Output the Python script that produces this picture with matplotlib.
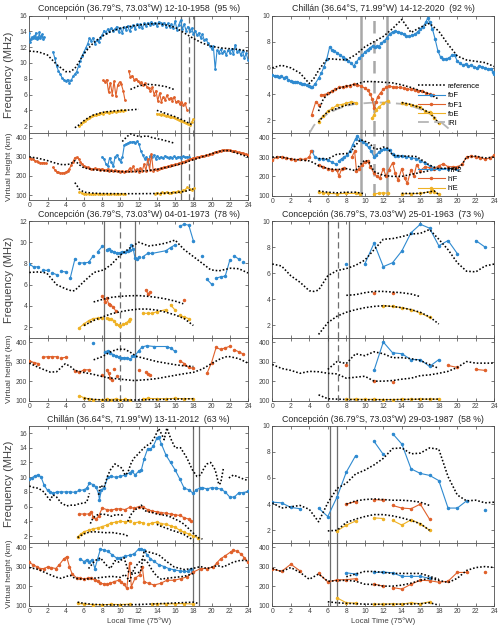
import numpy as np
import matplotlib
matplotlib.use('Agg')
import matplotlib.pyplot as plt
from matplotlib.lines import Line2D

nan = np.nan
plt.rcParams['font.family'] = ['Liberation Sans', 'DejaVu Sans']

c_blue = '#2f8ad0'
c_orange = '#e0612b'
c_yellow = '#efb225'
c_axis = '#4d4d4d'

hours = [0, 2, 4, 6, 8, 10, 12, 14, 16, 18, 20, 22, 24]
h_ticks = [100, 200, 300, 400]


def span(t0, t1, vals):
    return np.linspace(t0, t1, len(vals))


# ---------------- a: Concepción 12-10-1958 ----------------
a_title = 'Concepción (36.79°S, 73.03°W) 12-10-1958  (95 %)'
a_fof_1 = [13.8, 12.7, 13.0, 13.3, 13.1, 13.4, 13.2, 13.8, 13.0, 13.3, 13.1, 13.9, 13.2, 13.4, 13.6, 13.0, 13.3]
a_fof_2 = [11.4, 10.6, 9.6, 9.0, 8.6, 8.1, 7.9, 7.7, 7.9, 7.5, 7.8, 8.3, 8.6, 8.9, 9.6, 10.3, 10.9, 11.4, 11.9,
           12.4, 13.1, 12.8, 13.2, 12.4, 12.9, 12.6, 13.2, 13.5, 14.1, 13.8, 14.3, 14.0, 14.4, 14.1, 14.3, 14.6,
           13.9, 14.4, 13.8, 14.6, 14.2, 14.7, 14.0, 14.5, 14.8, 14.3, 14.9, 14.6, 14.9, 14.4, 15.0, 14.7, 15.1,
           14.8, 15.2, 14.9, 15.1, 14.7, 15.2, 15.0, 14.8, 15.1, 14.6, 15.0, 14.5, 14.9, 14.4, 15.3, 14.2, 14.8,
           15.4, 14.3, 14.9, 14.1, 14.6, 14.0, 14.4, 13.7, 14.1, 13.5, 13.8, 13.2, 13.6, 12.9, 13.0, 12.5, 12.2,
           11.8, 12.1, 9.2, 11.6, 11.3, 11.7, 11.2, 11.5, 11.0, 11.6, 11.3, 11.8, 11.1, 12.3, 11.4, 11.6, 11.0,
           11.5, 10.6, 11.2, 10.4]
a_fof_t = np.r_[span(0, 1.6, a_fof_1), nan, span(2.6, 24, a_fof_2)]
a_fof_v = np.r_[a_fof_1, nan, a_fof_2]

a_fof1_1 = [7.8, 7.6, 7.9, 6.3, 7.5, 6.0, 7.7, 5.8, 7.2, 7.6, 7.3, 6.5, 5.3]
a_fof1_2 = [9.0, 8.2, 8.4, 7.9, 8.0, 7.7, 7.5, 7.6, 7.2, 7.4, 7.0, 6.8, 6.4, 6.9, 6.0, 6.5, 5.2, 6.2, 5.1, 5.7,
            5.3, 5.9, 5.4, 5.6, 5.2, 5.7, 5.0, 5.2, 4.8, 5.1, 4.7, 4.9, 4.1]
a_fof1_t = np.r_[span(8.1, 10.5, a_fof1_1), nan, span(10.9, 17.3, a_fof1_2)]
a_fof1_v = np.r_[a_fof1_1, nan, a_fof1_2]

a_foe_1 = [2.0, 2.3, 2.5, 2.7, 2.9, 3.0, 3.1, 3.3, 3.4, 3.4, 3.5, 3.6, 3.7, 3.6, 3.75, 3.8, 3.7, 3.85, 3.8, 3.9,
           3.85, 3.95, 3.9, 4.0, 3.9, 4.0]
a_foe_2 = [3.6, 3.5, 3.4, 3.5, 3.4, 3.3, 3.35, 3.2, 3.2, 3.1, 3.0, 2.9, 2.8, 2.7, 2.6, 2.5, 2.4, 2.3, 2.2, 2.5, 2.9]
a_foe_t = np.r_[span(5.5, 10.5, a_foe_1), nan, span(14.0, 18.0, a_foe_2)]
a_foe_v = np.r_[a_foe_1, nan, a_foe_2]

a_ref_f = [
    ([0, 1, 2, 3, 4, 4.5, 5, 5.5, 6, 7, 8, 9, 10, 11, 12, 13, 14, 15, 16, 17, 18, 19, 20, 21, 22, 23, 24],
     [11.5, 11.4, 11.0, 9.8, 8.9, 8.9, 9.3, 10.2, 11.2, 12.5, 13.4, 14.0, 14.4, 14.6, 14.8, 14.9, 15.0, 14.8,
      14.5, 13.8, 13.1, 12.5, 12.1, 11.9, 11.8, 11.7, 11.5]),
    ([11.1, 12, 13, 14, 15, 16], [6.65, 7.1, 7.3, 7.2, 7.0, 6.6]),
    ([5, 5.5, 6, 6.5, 7, 8, 9, 10, 11, 12, nan, 14, 15, 16, 17, 18],
     [1.8, 2.2, 2.7, 3.1, 3.4, 3.75, 3.9, 4.0, 4.05, 4.15, nan, 4.0, 3.6, 3.2, 2.7, 2.1]),
]

a_hf2_v = [300, 290, 262, 250, 295, 272, 250, 300, 310, 290, 272, 300, 360, 368, 372, 378, 375, 380, 370, 382, 365,
           330, 310, 290, 300, 262, 305, 298, 310, 290, 305, 295, 300, 292, 305, 298, 295, 300, 296, 302, 295, 300,
           298, 296, 302, 297, 300, 298]
a_hf2_t = span(8.0, 17.5, a_hf2_v)

a_hf_1 = [295, 290, 287, 280, 276, 272, 270, 268, 270, 266]
a_hf_2 = [245, 232, 222, 218, 216, 215, 217, 220, 226, 238, 255, 275, 296, 298, 290, 275, 262, 254, 248, 245, 240,
          238, 236, 240, 234, 236, 232, 238, 233, 230, 236, 228, 232, 226, 230, 224, 228, 222, 227, 221, 226, 224,
          240, 225, 250, 228, 236, 222, 240, 226, 262, 228, 290, 232, 315, 228, 235, 232, 238, 240, 244, 246, 248,
          250, 254, 256, 258, 260, 263, 266, 268, 272, 275, 280, 284, 288, 290, 294, 296, 298, 300, 302, 304, 306,
          308, 311, 314, 317, 320, 324, 327, 330, 332, 334, 336, 335, 337, 334, 333, 330, 331, 326, 324, 320, 322,
          316, 314, 310]
a_hf_t = np.r_[span(0, 1.8, a_hf_1), nan, span(2.6, 24, a_hf_2)]
a_hf_v = np.r_[a_hf_1, nan, a_hf_2]

a_he_1 = [118, 110, 106, 104, 106, 103, 105, 104, 107, 103, 105, 104, 106, 103, 105, 104, 106, 105, 103, 104, 106]
a_he_2 = [108, 112, 106, 114, 109, 116, 111, 113, 118, 114, 120, 117, 124, 128, 140, 132, 128, 135]
a_he_t = np.r_[span(5.5, 10.5, a_he_1), nan, span(13.8, 18.1, a_he_2)]
a_he_v = np.r_[a_he_1, nan, a_he_2]

a_ref_h = [
    ([0, 1, 2, 3, 3.7, 4.5, 5, 5.5, 6, 7, 8, 9, 10, 11, 12, 13, 14, 15, 16, 17, 18, 19, 20, 21, 21.5, 22, 23, 24],
     [300, 292, 280, 265, 258, 262, 280, 258, 242, 233, 228, 225, 222, 222, 224, 228, 234, 244, 255, 268, 285, 300,
      316, 330, 333, 332, 315, 300]),
    ([10.2, 10.7, 11.1, 11.7, 12.3, 12.9, 13.5, 14.5, 15.3, 16.0], [380, 405, 420, 410, 405, 410, 400, 390, 380, 370]),
    ([5.0, 5.5, 6, 7, 8, 10, 12, 14, 16, 17, 18], [165, 130, 115, 110, 108, 107, 107, 108, 112, 118, 132]),
]
a_vlines = [16.6, 18.05]
a_vdash = [17.55]

# ---------------- b: Chillán 14-12-2020 ----------------
b_title = 'Chillán (36.64°S, 71.99°W) 14-12-2020  (92 %)'
b_fof_1 = [5.45, 5.4, 5.35, 5.3, 5.35, 5.25, 5.3, 5.1, 5.0, 4.95, 4.9, 4.95, 4.85, 4.8, 4.75, 4.7, 4.6, 4.55]
b_fof_t2 = [4.3, 4.6, 5.0, 5.3, 5.6, 5.9, 6.2, 6.4, 6.7, 7.0, 7.3, 7.6, 7.9, 8.2, 8.5, 8.8, 9.1, 9.4, 9.7, 10.0,
            10.3, 10.6, 10.9, 11.1, 11.3, 11.5, 11.8, 12.1, 12.4, 12.7, 13.0, 13.3, 13.6, 13.9, 14.2, 14.5, 14.8,
            15.1, 15.4, 15.7, 16.0, 16.3, 16.6, 16.8, 17.0, 17.3, 17.6, 17.9, 18.2, 18.5, 18.8, 19.1, 19.4, 19.7,
            20.0, 20.3, 20.6, 20.9, 21.2, 21.5, 21.8, 22.1, 22.4, 22.7, 23.0, 23.3, 23.6, 23.9, 24.0]
b_fof_2 = [4.5, 4.75, 5.2, 5.6, 6.1, 6.7, 7.6, 7.4, 7.3, 7.15, 7.0, 6.85, 6.7, 6.55, 6.35, 6.15, 6.45, 6.75, 6.95,
           7.2, 7.4, 7.55, 7.7, 7.6, 7.65, 7.6, 7.9, 8.05, 8.3, 8.6, 8.75, 8.8, 8.75, 8.7, 8.6, 8.4, 8.4, 8.5, 8.55,
           8.75, 8.95, 9.15, 9.5, 9.8, 9.5, 9.0, 8.2, 7.3, 6.8, 6.65, 6.7, 6.75, 6.95, 7.0, 6.5, 6.35, 6.2, 6.3,
           6.15, 6.2, 6.1, 6.0, 6.15, 6.05, 6.0, 5.9, 5.95, 5.7, 5.55]
b_fof_t = np.r_[span(0, 4.2, b_fof_1), nan, b_fof_t2]
b_fof_v = np.r_[b_fof_1, nan, b_fof_2]

b_fof1_t = [4.25, 4.7, 5.0, nan, 5.3, 5.6, 6.0, 6.4, 6.8, 7.2, 7.6, 8.0, 8.4, 8.8, 9.2, 9.6, 10.0, 10.3, 10.6, 10.8,
            11.0, 11.2, 11.4, 11.7, 12.0, 12.3, 12.6, 13.0, 13.4, 13.8, 14.2, 14.6, 15.0, 15.4, 15.8, 16.2, 16.6,
            17.0, 17.4]
b_fof1_v = [2.4, 3.4, 3.2, nan, 3.95, 3.95, 4.05, 4.2, 4.35, 4.5, 4.55, 4.6, 4.65, 4.75, 4.7, 4.6, 4.45, 4.3, 4.0,
            3.6, 2.9, 3.4, 3.8, 4.1, 4.35, 4.5, 4.6, 4.55, 4.5, 4.5, 4.45, 4.4, 4.35, 4.3, 4.25, 4.2, 4.1, 4.0, 3.9]
b_foe_t = [5.0, 5.5, 6, 6.5, 7, 7.5, 8, 8.5, 9, nan, 10.8, 11.0, 11.2, 11.5, 12, 12.5, nan,
           14, 14.5, 15, 15.5, 16, 16.5, 17, 17.5, 18]
b_foe_v = [1.9, 2.3, 2.7, 2.9, 3.15, 3.2, 3.3, 3.4, 3.35, nan, 2.2, 2.4, 2.8, 3.0, 3.3, 3.5, nan,
           3.35, 3.25, 3.2, 3.1, 3.0, 2.7, 2.6, 2.2, 1.8]
b_iri_t = [4.0, 4.5, 5, 6, 7, 8, 9, 10, 11, 12, 13, 14, 15, 16, 17, 18, 19, 19.5]
b_iri_v = [1.0, 1.6, 2.0, 2.5, 2.85, 3.1, 3.25, 3.3, 3.35, 3.35, 3.3, 3.25, 3.1, 2.85, 2.5, 2.0, 1.4, 1.0]
b_ref_f = [
    ([0, 0.5, 1, 2, 3, 4, 4.5, 5, 5.5, 6, 7, 8, 9, 10, 11, 12, 13, 14, 14.5, 15, 16, 17, 18, 19, 20, 21, 22, 23, 24],
     [6.0, 6.1, 6.2, 6.0, 5.6, 4.8, 5.2, 5.8, 6.3, 6.7, 6.65, 6.6, 7.0, 7.6, 8.0, 8.4, 9.0, 9.7, 9.2, 8.7, 9.1, 9.4,
      8.8, 7.8, 6.9, 6.6, 6.5, 6.4, 6.1]),
    ([5.0, 5.5, 6, 7, 8, 9, 10, 11, 12, 13, 14, 15, 16, 17, 18],
     [2.7, 3.6, 4.0, 4.4, 4.6, 4.75, 4.95, 4.95, 4.9, 4.85, 4.7, 4.5, 4.25, 4.0, 3.6]),
    ([5.0, 5.5, 6, 7, 8, 9, nan, 14, 15, 16, 17, 17.5, 18],
     [1.85, 2.3, 2.65, 2.9, 3.15, 3.3, nan, 3.35, 3.2, 2.95, 2.55, 2.2, 1.75]),
]
b_hf2_t = [4.3, 4.6, 5.0, 5.5, 6.0, 6.5, 6.9, nan, 7.2, 7.5, 7.8, 8.1, 8.4, 8.7, 9.0, 9.2, 9.5, 9.8, 10.1, 10.4,
           10.7, 11.0, 11.2, 11.5, 11.8, 12.1, 12.4, 12.7, 13.0, 13.3, 13.6, 14.0, 14.5, 15.0, 15.5, 16.0, 16.5,
           17.0, 17.5, 18.0, 19.0, 20.0]
b_hf2_v = [330, 300, 292, 290, 284, 272, 262, nan, 280, 292, 300, 310, 330, 365, 395, 410, 390, 378, 368, 350,
           330, 300, 310, 325, 335, 342, 340, 335, 315, 308, 305, 305, 300, 297, 292, 282, 268, 255, 245, 240,
           240, 240]
b_hf_t = [0, 0.5, 1, 1.5, 2, 2.5, 3, 3.5, 4, 4.2, nan, 5, 5.5, 6, 6.5, 7, 7.2, 7.5, 7.8, nan, 8.6, 8.9, 9.1, 9.4,
          9.7, 10, 10.3, 10.6, 11, 11.3, 11.6, 12, 12.3, 12.6, 13, 13.3, 13.6, 14, 14.3, 14.6, 15, 15.3, 15.6, 16,
          16.5, 17, 17.5, 18, 18.5, 19, 19.5, 20, 20.5, 21, 21.5, 22, 22.5, 23, 23.5, 24]
b_hf_v = [285, 300, 300, 295, 290, 285, 290, 288, 300, 330, nan, 260, 250, 240, 235, 232, 200, 240, 245, nan, 300,
          330, 230, 240, 260, 275, 280, 250, 215, 200, 190, 240, 200, 235, 270, 215, 180, 240, 190, 165, 235, 200,
          260, 230, 250, 245, 240, 255, 265, 250, 250, 250, 262, 300, 305, 300, 295, 290, 295, 310]
b_he_t = [5, 5.5, 6, 7, 8, 9, 9.5, nan, 11, 11.5, 12, 12.5, nan, 14, 15, 16, 17, 17.3, 17.5, 18]
b_he_v = [120, 115, 112, 110, 112, 112, 108, nan, 110, 112, 115, 112, nan, 110, 110, 112, 120, 130, 118, 110]
b_ref_h = [
    ([5, 5.5, 6, 7, 8, 8.5, 9, 9.5, 10, 10.5, 11, 11.5, 12, 12.5, 13, 14, 15, 15.6, 16, 17, 17.8, 19.2, 19.9],
     [292, 292, 290, 315, 318, 328, 360, 390, 382, 372, 345, 340, 352, 345, 310, 305, 305, 302, 290, 258, 242, 241,
      233]),
    ([0, 1, 2, 3, 4, 4.5, 5, 6, 7, 8, 9, 9.5, 10, 10.5, 11, 12, 13, 14, 15, 16, 17, 18, 19, 20, 20.5, 21, 22, 23, 24],
     [300, 300, 290, 285, 280, 270, 255, 240, 235, 240, 230, 260, 285, 270, 225, 205, 200, 200, 210, 220, 230, 240,
      240, 240, 260, 300, 305, 295, 300]),
    ([5, 6, 7, 8, 9, 10, nan, 14, 15, 16, 17, 17.5, 18], [125, 118, 115, 118, 118, 110, nan, 112, 112, 112, 120, 125, 105]),
]
b_vlines = [9.6, 12.45]
b_vdash = [10.95]

# ---------------- c: Concepción 04-01-1973 ----------------
c_title = 'Concepción (36.79°S, 73.03°W) 04-01-1973  (78 %)'
c_fof_t = [0, 0.5, 1.0, nan, 1.5, 2.0, nan, 2.5, 3.0, nan, 3.5, 4.0, nan, 4.5, 5.0, nan, 5.5, 6.0, 6.5, 7.0, nan,
           7.5, 8.0, nan, 8.5, 8.7, 9.0, 9.3, 9.6, 9.9, 10.2, 10.5, 10.8, 11.0, 11.2, 11.4, 11.6, 11.8, 12.0, nan,
           12.5, 13.0, 13.5, 15.0, 15.5, 16.0, nan, 16.5, 17.0, 17.5, 18.0, nan, 19.0, nan, 19.5, 20.0, nan,
           20.5, 21.0, 21.5, 22.0, nan, 22.5, 23.0, nan, 23.5]
c_fof_v = [7.95, 7.65, 7.7, nan, 7.35, 7.35, nan, 7.1, 6.95, nan, 7.25, 7.2, nan, 6.65, 8.4, nan, 8.05, 8.05, 8.1,
           8.7, nan, 9.1, 9.6, nan, 9.3, 9.4, 9.2, 9.1, 9.0, 9.0, 9.1, 9.1, 9.2, 9.3, 9.7, 9.4, 8.5, 8.4, 8.6, nan,
           8.65, 8.95, 8.95, 9.2, 9.5, 9.75, nan, 11.5, 11.7, 11.6, 10.15, nan, 8.7, nan, 6.5, 6.05, nan,
           6.6, 6.75, 6.8, 8.3, nan, 8.7, 8.4, nan, 8.1]
c_fof1_t = [8.0, 8.3, 8.5, 8.7, 8.9, 9.2, 9.5, nan, 12.8, 13.0, 13.3, nan, 17.0]
c_fof1_v = [4.9, 4.4, 4.75, 4.2, 4.1, 3.9, 3.5, nan, 5.5, 5.15, 5.3, nan, 4.6]
c_foe_t = [5.5, 6, 6.5, 7, 7.5, 8, nan, 8.5, 8.8, 9, 9.3, 9.5, 9.8, 10, 10.3, 10.6, 10.9, 11, nan,
           12.5, 13, 13.5, 14, 15, nan, 15.5, 16, nan, 16.5, 17, 17.5]
c_foe_v = [1.95, 2.3, 2.6, 2.8, 2.85, 2.9, nan, 2.85, 2.8, 2.75, 2.6, 2.3, 2.15, 2.1, 2.25, 2.35, 2.6, 2.8, nan,
           3.3, 3.3, 3.3, 3.45, 3.65, nan, 4.1, 3.6, nan, 3.1, 2.95, 2.8]
c_ref_f = [
    ([0, 1, 1.9, 3, 4, 4.7, 5, 6, 7.1, 8.2, 9, 10, 11.1, 12, 13.1, 14, 14.9, 16, 17, 18, 19, 19.9, 20.8, 22.1, 23, 24],
     [7.15, 7.2, 7.1, 6.0, 5.6, 5.4, 5.45, 6.3, 7.15, 7.4, 7.9, 8.8, 9.5, 10.0, 9.65, 9.75, 9.9, 10.2, 9.3, 8.65,
      8.0, 7.4, 7.3, 7.55, 7.5, 7.1]),
    ([7.06, 8, 9, 10, 11, 12, 13, 14, 15, 16, 16.9], [4.37, 4.6, 4.8, 4.9, 4.95, 4.97, 4.9, 4.8, 4.65, 4.45, 4.2]),
    ([6, 7, 8, 9, 10, 11, 12, 13, 14, 15, 16, 17, 18],
     [2.15, 2.6, 2.95, 3.25, 3.45, 3.6, 3.7, 3.7, 3.6, 3.4, 3.15, 2.8, 2.15]),
]
c_hf2_t = [7.0, nan, 8.3, 8.6, 8.9, 9.2, 9.5, 9.8, 10.1, 10.4, 10.7, 11.0, nan, 11.3, 11.6, 12.0, 12.4, 12.9, 13.7,
           15.1, 15.5, 16.0]
c_hf2_v = [395, nan, 350, 355, 345, 335, 330, 325, 320, 320, 318, 315, nan, 330, 330, 355, 375, 381, 377, 377, 369,
           352]
c_hf_t = [0, 0.5, 1, nan, 1.5, 2, 2.5, 3, nan, 3.5, 4, nan, 5, 5.5, 6, 6.5, nan, 8.0, nan, 8.5, 8.7, 8.9, 9.1, nan,
          9.3, nan, 9.6, nan, 12.0, nan, 12.8, 13.0, 13.3, nan, 16.5, 17, 17.5, 18, nan, 19.5, 20, 20.5, 21, 21.5,
          22, nan, 22.5, 23, 23.5]
c_hf_v = [305, 295, 290, nan, 322, 325, 325, 325, nan, 318, 322, nan, 250, 245, 258, 258, nan, 230, nan, 255, 240,
          215, 205, nan, 260, nan, 225, nan, 255, nan, 245, 235, 230, nan, 305, 290, 270, 265, nan, 240, 295, 372,
          362, 370, 378, nan, 360, 350, 338]
c_he_t = [5.5, 6, 6.5, 7, 8, 8.5, 9, 9.5, 10, 10.5, 11, nan, 12.5, 13, 14, 15, 16, 17, 18]
c_he_v = [125, 115, 110, 106, 105, 108, 106, 109, 105, 107, 105, nan, 110, 112, 110, 110, 112, 110, 110]
c_ref_h = [
    ([7.06, 8, 9, 9.8, 10.5, 11, 11.8, 13, 14, 15, 16, 17, 18],
     [309, 325, 352, 364, 362, 350, 326, 312, 300, 292, 284, 278, 275]),
    ([0, 1, 2.3, 3, 3.95, 4.5, 5, 6, 7, 8.5, 10, 11.5, 13, 14, 15.9, 17, 18, 19, 20, 21, 21.7, 22, 23, 24],
     [292, 270, 246, 248, 289, 275, 255, 244, 235, 218, 210, 203, 208, 213, 229, 238, 245, 262, 290, 315, 326, 325,
      315, 292]),
    ([6, 7, 8, 10, 12, 14, 16, 18], [112, 107, 104, 103, 104, 106, 108, 110]),
]
c_vlines = [8.25, 11.65]
c_vdash = [9.9]

# ---------------- d: Concepción 25-01-1963 ----------------
d_title = 'Concepción (36.79°S, 73.03°W) 25-01-1963  (73 %)'
d_fof_t = [8, nan, 10, 11, 12, 13, 14, 15, 16, 17, 18, 19, 20, nan, 22, 23]
d_fof_v = [6.7, nan, 6.7, 8.3, 6.5, 6.8, 7.7, 9.1, 9.75, 9.45, 8.1, 8.5, 7.5, nan, 8.5, 8.0]
d_fof1_t = [11, nan, 13]
d_fof1_v = [4.5, nan, 4.5]
d_foe_t = [12, 13, 14, 15, 16, 17]
d_foe_v = [3.5, 3.45, 3.35, 3.2, 2.95, 2.6]
d_ref_f = [
    ([0, 1, 2, 3, 4, 4.5, 5, 6, 7, 8, 9, 10, 11, 12, 13, 14, 15, 16, 17, 18, 19, 20, 21, 22, 23, 24],
     [6.7, 6.55, 5.8, 5.3, 4.65, 4.6, 4.7, 5.8, 6.2, 6.35, 6.6, 7.0, 7.8, 8.6, 8.65, 8.8, 9.0, 9.05, 9.35, 8.6, 7.8,
      6.8, 6.15, 6.1, 6.55, 6.7]),
    ([8, 9, 10, 11, 12, 13, 14, 15, 16], [4.3, 4.35, 4.5, 4.6, 4.6, 4.55, 4.5, 4.4, 4.2]),
    ([5, 6, 7, 8, 9, 10, 11, 12, 13, 14, 15, 16, 17, 18],
     [1.3, 2.2, 2.7, 3.0, 3.2, 3.35, 3.45, 3.5, 3.45, 3.35, 3.2, 3.0, 2.65, 2.1]),
]
d_hf2_t = [11, 12, 13, 14, 15, 16, 17, 18]
d_hf2_v = [255, 400, 345, 340, 310, 310, 275, 310]
d_hf_t = [8, nan, 11, nan, 13, nan, 19, 20, nan, 22, 23]
d_hf_v = [280, nan, 200, nan, 197, nan, 280, 270, nan, 260, 255]
d_he_t = [8, 9, 10, 11, 12, 13, 14, 15, 16, 17, 18]
d_he_v = [107, 108, 107, 107, 106, 106, 107, 107, 108, 108, 108]
d_ref_h = [
    ([6, 7, 8, 9, 10, 11, 12, 13, 14, 15, 16, 17, 18],
     [260, 300, 290, 340, 330, 350, 340, 320, 320, 315, 305, 285, 265]),
    ([0, 1, 2, 3, 4, 5, 6, 7, 8, 9, 10, 11, 12, 13, 14, 15, 16, 17, 18, 19, 20, 21, 22, 23, 24],
     [285, 265, 255, 240, 250, 248, 240, 237, 215, 220, 225, 200, 200, 203, 210, 215, 228, 232, 240, 250, 270, 300,
      292, 292, 292]),
    ([5, 6, 7, 8, 10, 12, 14, 16, 18], [130, 110, 108, 106, 105, 105, 106, 108, 108]),
]
d_vlines = [6.05, 8.25]
d_vdash = [7.05]

# ---------------- e: Chillán 13-11-2012 ----------------
e_title = 'Chillán (36.64°S, 71.99°W) 13-11-2012  (63 %)'
e_fof_t = [0, 0.3, 0.6, 1.0, 1.3, 1.6, 2.0, 2.3, 2.6, 3.0, 3.5, 4.0, 4.5, 5.0, 5.5, 6.0, 6.3, 6.6, 7.0, 7.3, 7.6,
           7.7, 7.9, 8.2, 8.6, 9.0, 9.5, 10.0, 10.5, 11.0, 11.3, 11.6, 12.0, 12.3, 12.6, 13.0, 13.3, 13.6, 14.0,
           14.2, 14.5, 15.0, 15.5, 16.0, 16.5, 17.0, 17.5, 18.0, 18.3, 18.7, 19.0, 19.5, 20.0, 20.5, 21.0, 21.5,
           22.0, 22.5, 23.0, 23.5, 24.0]
e_fof_v = [9.7, 9.9, 10.2, 10.3, 10.0, 9.0, 8.2, 8.0, 7.8, 8.0, 8.0, 8.0, 8.0, 7.95, 8.2, 8.3, 8.5, 9.2, 9.0, 8.7,
           7.8, 6.9, 8.3, 8.5, 10.0, 10.1, 10.0, 10.1, 10.3, 10.6, 10.8, 10.3, 10.8, 11.0, 12.5, 13.9, 13.8, 14.2,
           15.3, 15.5, 14.5, 13.0, 12.0, 11.0, 9.8, 8.5, 8.3, 7.8, 8.3, 8.5, 8.6, 8.4, 8.6, 8.5, 8.4, 8.0, 7.3, 7.3,
           7.9, 7.9, 8.1]
e_fof1_t = [5.5, 6.0, 6.5, 6.8, 7.0, 7.3, 7.6, 8.0, 8.5, 9.0, 9.5, 10.0, 10.5, 11.0, 11.5, 12.0, 12.5, 13.0, 13.5,
            14.0, 14.5, 15.0, 15.5, 16.0, 16.5, 17.0, 17.5, 17.7]
e_fof1_v = [5.0, 5.0, 5.0, 5.3, 4.6, 4.3, 4.7, 5.8, 5.6, 5.5, 5.7, 5.7, 5.6, 5.9, 5.8, 6.0, 5.9, 5.6, 5.4, 5.3, 5.2,
            5.1, 5.0, 4.9, 4.8, 4.5, 4.3, 4.0]
e_foe_t = [5.3, 5.7, 6.0, 6.5, 7.0, 7.5, 8.0, 8.5, 9.0, 9.5, 10.0, 10.5, 11.0, nan, 11.5, 12.0, 12.5, nan,
           13.0, 13.5, 14.0, 14.5, 15.0, 15.5, 16.0, 16.5, 17.0, 17.5, 18.0, 18.5]
e_foe_v = [1.9, 2.3, 2.6, 2.8, 3.0, 3.1, 3.3, 3.5, 3.8, 3.9, 4.0, 3.95, 4.0, nan, 3.8, 3.9, 3.8, nan,
           3.6, 3.8, 3.9, 3.7, 3.6, 3.4, 3.2, 2.8, 2.5, 2.3, 2.0, 1.8]
e_ref_f = [
    ([0, 0.5, 1, 1.6, 2, 2.3, 2.6, 3.0, 3.5, 4.1, 4.5, 5, 5.5, 6, 6.3, 6.6],
     [8.8, 8.6, 8.5, 8.0, 7.3, 6.9, 7.6, 7.3, 6.5, 6.1, 6.2, 6.2, 6.4, 6.5, 6.6, 7.8]),
    ([7.6, 7.8, 8.2, 8.6, 8.9, 9.4, 9.8, 10.2, 10.5, 10.8, 11.2, 11.5, 11.9, 12.2, 12.6, 12.9, 13.3, 13.7, 14.2, 14.5,
      14.8, 15.1, 15.5, 16.0, 16.6, 17.0, 17.3, 17.9, 18.4, 18.8, 19.2, 19.5, 19.9, 20.4, 20.8, 21.0, 21.3],
     [7.6, 8.9, 8.6, 10.2, 11.0, 11.8, 11.5, 11.2, 10.3, 10.6, 12.0, 12.6, 13.1, 13.5, 14.0, 14.3, 14.6, 15.3, 16.6,
      15.9, 15.1, 16.7, 15.3, 14.0, 14.0, 13.2, 12.6, 11.0, 10.1, 10.3, 11.3, 11.8, 12.0, 11.0, 9.0, 9.2, 11.2]),
    ([21.9, 22.4, 22.8, 23.2, 23.6, 23.9], [9.9, 10.3, 10.1, 9.9, 9.7, 9.6]),
    ([6.7, 7.0, 7.5, 8.0, 8.5, 9.0, 9.5, 10.0, 10.4], [3.7, 4.5, 4.9, 5.0, 4.9, 4.7, 4.9, 4.9, 4.8]),
    ([10.8, 11.2, 11.6, 12.0, 12.3, 12.6, 13.0, 13.5, 14.0, 14.5, 15.0, 15.5, 16.0, 16.5, 17.0, 17.5, 18.0, 18.5, 19.0],
     [4.0, 5.0, 5.6, 5.8, 6.2, 5.5, 5.3, 5.2, 5.0, 4.9, 4.8, 4.6, 4.3, 4.0, 3.6, 3.0, 2.4, 1.8, 1.6]),
    ([5.3, 5.7, 6.0, 6.5, 7.0, 7.5, 8.0, 8.5, 9.0, 9.5, 10.0, 10.5, 10.8],
     [1.8, 2.1, 2.3, 2.5, 2.6, 2.55, 2.5, 2.45, 2.5, 2.4, 2.3, 2.2, 2.0]),
    ([14.0, 14.5, 15.0, 15.5, 16.0, 16.5, 17.0, 17.5, 18.0], [3.6, 3.3, 3.1, 2.85, 2.65, 2.45, 2.2, 1.8, 1.5]),
]
e_hf2_t = [5.6, 6.0, 6.3, 6.6, 6.9, 7.2, 7.5, 7.8, 8.2, 8.6, 9.1, 9.6, 10.0, 10.5, 11.0, 11.5, 12.0, 12.3, 12.6,
           12.9, 13.3, 13.7, 14.2, 14.8, 15.3, 15.9, 16.5, 17.0, 17.4, 17.7, 17.9]
e_hf2_v = [340, 325, 335, 325, 335, 290, 340, 388, 385, 378, 360, 343, 345, 352, 358, 365, 390, 388, 386, 360, 340,
           326, 310, 300, 290, 283, 278, 275, 275, 290, 272]
e_hf_t = [0, 0.4, 0.8, 1.2, 1.6, 2.0, 2.4, 2.9, 3.3, 3.8, 4.1, 4.4, 4.7, 5.2, 5.6, 6.0, 6.4, 6.8, 7.2, 7.5, 7.8,
          8.2, 8.5, 8.9, 9.3, 9.8, 10.1, 10.4, 10.7, 11.0, 11.2, 11.6, 12.1, 12.4, 12.6, 13.1, 13.7, 14.4, 15.1,
          15.9, 16.6, 17.3, 18.0, 18.8, 19.5, 20.2, 20.6, 21.0, 21.5, 22.1, 22.4, 22.8, 23.2, 23.6, 24.0]
e_hf_v = [321, 310, 300, 290, 290, 298, 295, 290, 310, 340, 350, 300, 263, 242, 240, 238, 240, 242, 230, 225, 214,
          212, 209, 215, 223, 230, 220, 209, 188, 320, 197, 240, 257, 300, 223, 214, 206, 214, 230, 230, 238, 247,
          272, 290, 290, 298, 320, 340, 355, 375, 383, 378, 366, 345, 323]
e_he_t = [5.3, 6, 7, 8, 9, 10, 11, nan, 13.5, 14, 15, 16, 17, 18]
e_he_v = [112, 108, 106, 105, 107, 106, 108, nan, 108, 110, 109, 110, 111, 108]
e_ref_h = [
    ([0, 1, 1.6, 2.3, 2.9, 3.5, 4.1, 4.5, 5, 6, 7, 8, 9, 10, 10.5, 11, 11.5, 12, 12.5, 13, 13.5, 14, 14.5, 15, 16,
      17, 18],
     [295, 285, 272, 258, 246, 240, 250, 255, 240, 235, 240, 245, 250, 245, 260, 225, 290, 320, 340, 320, 280, 250,
      235, 240, 245, 250, 265]),
    ([6.5, 7.2, 7.8, 8.4, 8.9, 9.4, 9.8, 10.4, 10.9, 11.5, 12.2, 12.6, 13.3, 14.2, 15.1, 15.9, 17, 17.9, 18.8, 19.5,
      20.6, 21.3, 22.4, 23.2, 24],
     [290, 330, 345, 310, 290, 330, 323, 345, 272, 265, 272, 380, 372, 360, 325, 298, 285, 290, 300, 290, 305, 298,
      323, 332, 330]),
    ([5.3, 6, 7, 8, 9, 10, 11, 12, 13, 14, 15, 16, 17, 18, 18.5],
     [118, 112, 107, 105, 104, 104, 105, 106, 108, 110, 112, 114, 116, 118, 112]),
]
e_vlines = [17.95, 18.65]
e_vdash = []

# ---------------- f: Concepción 29-03-1987 ----------------
f_title = 'Concepción (36.79°S, 73.03°W) 29-03-1987  (58 %)'
f_fof_t = [0, 1, 2, 3, nan, 5, 6, 7, 8, 9, nan, 11, 12, nan, 13, 14, 15, 16, 17, 18, 19, 20, 21, nan, 23]
f_fof_v = [4.15, 4.1, 3.75, 3.65, nan, 3.7, 3.05, 4.55, 6.45, 7.7, nan, 8.8, 7.8, nan, 9.4, 8.6, 6.7, 6.35, 6.2,
           5.8, 3.7, 3.7, 4.25, nan, 3.55]
f_fof1_t = [8, 9, nan, 11, 12, nan, 13, 14, 15, 16, 17]
f_fof1_v = [4.0, 4.2, nan, 4.35, 4.3, nan, 3.9, 3.7, 3.65, 4.0, 2.85]
f_foe_t = [7, 8, 9, nan, 11, 12, nan, 13, 14, 15, 16, 17]
f_foe_v = [1.95, 2.4, 2.7, nan, 2.95, 2.9, nan, 2.75, 2.4, 2.8, 2.5, 2.0]
f_ref_f = [
    ([0, 1, 2, 3, 4, 5, 6, 7, 8, 9, 10, 11, 12, 13, 14, 15, 16, 17, 18, 19, 20, 21, 22, 23, 24],
     [4.1, 3.7, 3.8, 3.9, 3.6, 2.65, 4.1, 5.2, 5.6, 6.3, 6.6, 7.0, 7.5, 8.25, 8.3, 7.85, 7.9, 8.3, 8.2, 6.1, 4.7,
      4.25, 4.3, 4.1, 4.15]),
    ([8, 9, 10, 11, 12, 13, 14, 15, 16, 17], [4.0, 4.25, 4.35, 4.4, 4.35, 4.3, 4.3, 4.25, 4.15, 3.9]),
    ([6, 7, 8, 9, 10, 11, 12, 13, 14, 15, 16, 17], [1.95, 2.0, 2.6, 2.85, 3.05, 3.2, 3.2, 3.1, 2.95, 2.75, 2.5, 2.0]),
]
f_hf2_t = [8, 9, nan, 11, 12, 13, 14, 15, 16, 17]
f_hf2_v = [268, 262, nan, 270, 272, 268, 250, 250, 250, 240]
f_hf_t = [0, 1, 2, 3, nan, 5, 6, 7, 8, 9, nan, 11, 12, nan, 13, 14, 15, 16, 17, 18, 19, 20, 21, nan, 23]
f_hf_v = [288, 275, 312, 278, nan, 265, 222, 232, 233, 238, nan, 210, 200, nan, 193, 185, 210, 230, 228, 220, 225,
          270, 270, nan, 272]
f_he_t = [7, 8, 9, nan, 11, 12, 13, 14, 15, 16, 17]
f_he_v = [140, 115, 113, nan, 108, 108, 110, 108, 115, 110, 120]
f_ref_h = [
    ([0, 1, 2, 3, 4, 5, 6, 7, 8, 9, 10, 11, 12, 13, 14, 15, 16, 17, 18, 19, 20, 21, 22, 23, 24],
     [290, 275, 295, 270, 235, 262, 225, 228, 230, 225, 210, 208, 200, 200, 205, 215, 230, 240, 230, 218, 240, 280,
      295, 300, 295]),
    ([8, 9, 10, 11, 12, 13, 14, 15, 16, 17, 18], [248, 262, 275, 275, 270, 265, 265, 265, 265, 250, 235]),
    ([6, 7, 8, 10, 12, 14, 16, 17, 18], [120, 115, 112, 108, 107, 108, 110, 115, 103]),
]
f_vlines = [6.2, 7.0]
f_vdash = []

# ---------------- layout (pixels) ----------------
W, H = 500, 629
cols = [(29.3, 248.0), (272.3, 494.3)]
rows = [(15.5, 133.3, 200.0), (221.0, 337.7, 400.7), (425.7, 542.7, 605.7)]

panels = [
    dict(title=a_title, col=0, row=0, fylim=(1.1, 16), fticks=range(2, 17, 2), hylim=(74, 423),
         fof=(a_fof_t, a_fof_v), fof1=(a_fof1_t, a_fof1_v), foe=(a_foe_t, a_foe_v), ref_f=a_ref_f,
         hf2=(a_hf2_t, a_hf2_v), hf=(a_hf_t, a_hf_v), he=(a_he_t, a_he_v), ref_h=a_ref_h,
         vl=a_vlines, vd=a_vdash, dense=True),
    dict(title=b_title, col=1, row=0, fylim=(1.0, 10), fticks=range(2, 11, 2), hylim=(100, 423), bottom=195.7,
         fof=(b_fof_t, b_fof_v), fof1=(b_fof1_t, b_fof1_v), foe=(b_foe_t, b_foe_v), ref_f=b_ref_f,
         hf2=(b_hf2_t, b_hf2_v), hf=(b_hf_t, b_hf_v), he=(b_he_t, b_he_v), ref_h=b_ref_h,
         vl=b_vlines, vd=b_vdash, iri=(b_iri_t, b_iri_v), legend=True),
    dict(title=c_title, col=0, row=1, fylim=(1.0, 12), fticks=range(2, 13, 2), hylim=(100, 422),
         fof=(c_fof_t, c_fof_v), fof1=(c_fof1_t, c_fof1_v), foe=(c_foe_t, c_foe_v), ref_f=c_ref_f,
         hf2=(c_hf2_t, c_hf2_v), hf=(c_hf_t, c_hf_v), he=(c_he_t, c_he_v), ref_h=c_ref_h,
         vl=c_vlines, vd=c_vdash),
    dict(title=d_title, col=1, row=1, fylim=(1.05, 10), fticks=range(2, 11, 2), hylim=(100, 422),
         fof=(d_fof_t, d_fof_v), fof1=(d_fof1_t, d_fof1_v), foe=(d_foe_t, d_foe_v), ref_f=d_ref_f,
         hf2=(d_hf2_t, d_hf2_v), hf=(d_hf_t, d_hf_v), he=(d_he_t, d_he_v), ref_h=d_ref_h,
         vl=d_vlines, vd=d_vdash),
    dict(title=e_title, col=0, row=2, fylim=(1.1, 17), fticks=range(2, 17, 2), hylim=(100, 422),
         fof=(e_fof_t, e_fof_v), fof1=(e_fof1_t, e_fof1_v), foe=(e_foe_t, e_foe_v), ref_f=e_ref_f,
         hf2=(e_hf2_t, e_hf2_v), hf=(e_hf_t, e_hf_v), he=(e_he_t, e_he_v), ref_h=e_ref_h,
         vl=e_vlines, vd=e_vdash),
    dict(title=f_title, col=1, row=2, fylim=(1.05, 10), fticks=range(2, 11, 2), hylim=(100, 422),
         fof=(f_fof_t, f_fof_v), fof1=(f_fof1_t, f_fof1_v), foe=(f_foe_t, f_foe_v), ref_f=f_ref_f,
         hf2=(f_hf2_t, f_hf2_v), hf=(f_hf_t, f_hf_v), he=(f_he_t, f_he_v), ref_h=f_ref_h,
         vl=f_vlines, vd=f_vdash),
]

st_ref = dict(color='k', lw=1.15, ls=(0, (1.0, 1.25)))
c_text = '#262626'


def st_obs(color, ms):
    return dict(color=color, lw=0.8, marker='.', ms=ms)


def rect(x0, x1, ytop, ybot):
    return [x0 / W, 1 - ybot / H, (x1 - x0) / W, (ybot - ytop) / H]


def style_axes(ax):
    ax.set_xlim(0, 24)
    ax.set_xticks(hours)
    ax.tick_params(direction='in', length=2.5, width=0.5, color='#444444', labelcolor='#404040',
                   labelsize=4.9, pad=1.5, top=True, right=True)
    for s in ax.spines.values():
        s.set_color(c_axis)
        s.set_linewidth(0.6)


fig = plt.figure(figsize=(W / 100, H / 100), dpi=100)

for p in panels:
    x0, x1 = cols[p['col']]
    ytop, ydiv, ybot = rows[p['row']]
    ybot = p.get('bottom', ybot)
    axf = fig.add_axes(rect(x0, x1, ytop, ydiv))
    axh = fig.add_axes(rect(x0, x1, ydiv, ybot))
    ms = 2.0 if p.get('dense') else 3.0
    vcol = '#a8a8a8' if p.get('legend') else '#6e6e6e'
    vlw = 1.8 if p.get('legend') else 0.9

    for ax in (axf, axh):
        style_axes(ax)
        for xv in p['vl']:
            ax.axvline(xv, color=vcol, lw=vlw, zorder=1)
        for xv in p['vd']:
            ax.axvline(xv, color=vcol, lw=vlw, ls=(0, (5, 3)), zorder=1)

    # frequency
    if 'iri' in p:
        axf.plot(*p['iri'], color='#b5b5b5', lw=1.3, ls=(0, (6, 3)), zorder=2)
    axf.plot(*p['fof'], **st_obs(c_blue, ms), zorder=3)
    axf.plot(*p['fof1'], **st_obs(c_orange, ms), zorder=3)
    axf.plot(*p['foe'], **st_obs(c_yellow, ms), zorder=3)
    for t, v in p['ref_f']:
        axf.plot(t, v, **st_ref, zorder=4)
    axf.set_ylim(*p['fylim'])
    axf.set_yticks(list(p['fticks']))
    axf.tick_params(labelbottom=False)
    axf.set_title(p['title'], fontsize=6.3, pad=3.0, color=c_text)

    # virtual height
    axh.plot(*p['hf2'], **st_obs(c_blue, ms), zorder=3)
    axh.plot(*p['hf'], **st_obs(c_orange, ms), zorder=3)
    axh.plot(*p['he'], **st_obs(c_yellow, ms), zorder=3)
    for t, v in p['ref_h']:
        axh.plot(t, v, **st_ref, zorder=4)
    axh.set_ylim(*p['hylim'])
    axh.set_yticks(h_ticks)

    if p['col'] == 0:
        axf.set_ylabel('Frequency (MHz)', fontsize=8.0, color='#404040')
        axf.yaxis.set_label_coords(-0.068, 0.5)
        axh.set_ylabel('Virtual height (km)', fontsize=6.0, color='#404040')
        axh.yaxis.set_label_coords(-0.075, 0.5)
    if p['row'] == 2:
        axh.set_xlabel('Local Time (75°W)', fontsize=5.6, labelpad=1.5, color='#404040')

    if p.get('legend'):
        hf = [Line2D([], [], **st_ref),
              Line2D([], [], **st_obs(c_blue, 3)),
              Line2D([], [], **st_obs(c_orange, 3)),
              Line2D([], [], **st_obs(c_yellow, 3)),
              Line2D([], [], color='#b5b5b5', lw=1.3, ls=(0, (6, 3)))]
        axf.legend(hf, ['reference', 'foF', 'foF1', 'foE', 'IRI'], loc='upper left',
                   bbox_to_anchor=(0.655, 0.43), frameon=False, fontsize=5.5, handlelength=3.6,
                   handletextpad=0.3, labelspacing=0.25, borderaxespad=0, borderpad=0)
        hh = [Line2D([], [], **st_obs(c_blue, 3)),
              Line2D([], [], **st_obs(c_orange, 3)),
              Line2D([], [], **st_obs(c_yellow, 3))]
        axh.legend(hh, ["h'F2", "h'F", "h'E"], loc='upper left', bbox_to_anchor=(0.655, 0.47),
                   frameon=False, fontsize=5.5, handlelength=3.6, handletextpad=0.3, labelspacing=0.25,
                   borderaxespad=0, borderpad=0)

fig.savefig('out.png', dpi=100)
